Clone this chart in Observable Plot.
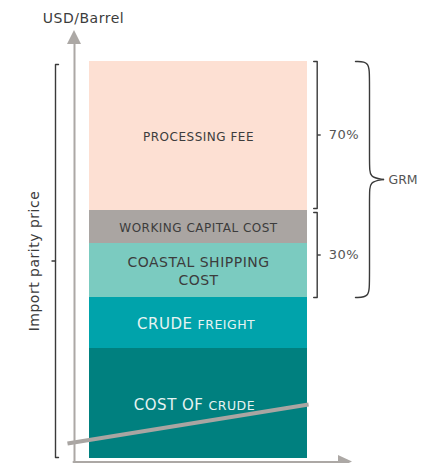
<!DOCTYPE html>
<html><head><meta charset="utf-8">
<script src="https://cdn.jsdelivr.net/npm/d3@7"></script>
<script src="https://cdn.jsdelivr.net/npm/@observablehq/plot@0.6"></script>
<style>body{margin:0;background:#fff} svg{display:block}</style>
</head><body><div id="chart"></div>
<script>
// ---- data (bottom to top) ----
const categories = ["Cost of crude", "Crude freight", "Coastal shipping cost", "Working capital cost", "Processing fee"];
const values = [110, 51, 54, 33, 149];               // USD/Barrel (relative)
const labelMain = ["COST OF", "CRUDE", "COASTAL SHIPPING\nCOST", "WORKING CAPITAL COST", "PROCESSING FEE"];
const labelSmall = ["CRUDE", "FREIGHT", "", "", ""];
const shareLabels = ["70%", "30%"];
const groupLabel = "GRM";
const sideLabel = "Import parity price";
const unitLabel = "USD/Barrel";
const trendX = [-0.101, 1.005];
const trendY = [15, 54];

// ---- styling ----
const palette = ["#00807f", "#00a3ab", "#7bcbc0", "#aaa5a2", "#fde0d3"];
const textDark = "#3c3c3c";
const textLight = "#e6f3f2";
const axisGray = "#aca8a5";
const bracketColor = "#3a3a3a";
const FONT = "DejaVu Sans";

let acc = 0;
const rows = categories.map((c, i) => {
  const y1 = acc; acc += values[i];
  return {category: c, y1, y2: acc, mid: (y1 + acc) / 2, main: labelMain[i], small: labelSmall[i], i};
});
const total = acc;
const U = 1 / 218; // x data units per pixel of bar width

const single = rows.filter(d => !d.small);
const split = rows.filter(d => d.small);
// pixel offsets of the split point for the two-size labels
const splitDx = {0: 7, 1: -4};

// brackets
const fee = rows[4], wc = rows[3], cs = rows[2];
const rb = 1 + 9.7 * U;
const rightBrackets = [
  {g: 0, top: fee.y2, bot: fee.y1 + 2},
  {g: 1, top: wc.y2 - 2, bot: cs.y1}
];
const rbPts = rightBrackets.flatMap(b => [
  {g: b.g, x: rb - 3.5 * U, y: b.top}, {g: b.g, x: rb, y: b.top},
  {g: b.g, x: rb, y: b.bot}, {g: b.g, x: rb - 3.5 * U, y: b.bot}
]);
const rbTicks = rightBrackets.map((b, k) => ({y: (b.top + b.bot) / 2, label: shareLabels[k]}));

const lb = -34 * U;
const lTop = total - 3, lBot = 1;
const lbPts = [{x: lb + 3 * U, y: lTop}, {x: lb, y: lTop}, {x: lb, y: lBot}, {x: lb + 3 * U, y: lBot}];
const lMid = (lTop + lBot) / 2;

// curly brace for GRM
const gTop = total, gBot = cs.y1, gMid = (gTop + gBot) / 2;
const bx = o => 1 + o * U;
const brace = [
  {g: 0, x: bx(48), y: gTop}, {g: 0, x: bx(62), y: gTop}, {g: 0, x: bx(62), y: gTop - 16},
  {g: 0, x: bx(62), y: gMid + 14}, {g: 0, x: bx(62), y: gMid + 2}, {g: 0, x: bx(76), y: gMid},
  {g: 1, x: bx(76), y: gMid}, {g: 1, x: bx(62), y: gMid - 2}, {g: 1, x: bx(62), y: gMid - 14},
  {g: 1, x: bx(62), y: gBot + 16}, {g: 1, x: bx(62), y: gBot}, {g: 1, x: bx(48), y: gBot}
];

// axes
const ax = -15 * U;
const axisY0 = -3.5;
const yArrowTip = total + 31, yArrowBase = total + 17;
const xArrowTip = bx(45), xArrowBase = bx(31);

const splitMarks = split.flatMap(d => [
  Plot.text([d], {x: 0.5, y: "mid", text: "main", dx: splitDx[d.i] - 2, dy: 6, fontSize: 15, fill: textLight, textAnchor: "end", lineAnchor: "bottom"}),
  Plot.text([d], {x: 0.5, y: "mid", text: "small", dx: splitDx[d.i] + 3, dy: 6, fontSize: 12.5, fill: textLight, textAnchor: "start", lineAnchor: "bottom"})
]);

const chart = Plot.plot({
  width: 421, height: 463,
  marginTop: 0, marginRight: 0, marginBottom: 0, marginLeft: 0,
  x: {domain: [0, 1], range: [89, 307], axis: null},
  y: {domain: [0, total], range: [458, 61], axis: null},
  color: {domain: categories, range: palette},
  style: {fontFamily: FONT, background: "white"},
  marks: [
    // stacked bar
    Plot.rectY(rows, {x1: 0, x2: 1, y1: "y1", y2: "y2", fill: "category"}),
    // segment labels
    Plot.text(single, {x: 0.5, y: "mid", text: "main", fontSize: d => d.i === 2 ? 14 : 12, lineHeight: 1.3, fill: textDark, textAnchor: "middle", lineAnchor: "middle"}),
    ...splitMarks,
    // trend line
    Plot.line(trendX.map((x, i) => ({x, y: trendY[i]})), {x: "x", y: "y", stroke: "#a9a5a2", strokeWidth: 4, strokeLinecap: "butt"}),
    // y axis with arrow
    Plot.line([{x: ax, y: axisY0}, {x: ax, y: yArrowBase + 1}], {x: "x", y: "y", stroke: axisGray, strokeWidth: 2}),
    Plot.areaX([{y: yArrowBase, x1: ax - 7 * U, x2: ax + 7 * U}, {y: yArrowTip, x1: ax, x2: ax}], {y: "y", x1: "x1", x2: "x2", fill: axisGray}),
    // x axis with arrow
    Plot.line([{x: ax - 1 * U, y: axisY0}, {x: xArrowBase + 1 * U, y: axisY0}], {x: "x", y: "y", stroke: axisGray, strokeWidth: 2}),
    Plot.areaY([{x: xArrowBase, y1: axisY0 - 6.5, y2: axisY0 + 6.5}, {x: xArrowTip, y1: axisY0, y2: axisY0}], {x: "x", y1: "y1", y2: "y2", fill: axisGray}),
    // left bracket
    Plot.line(lbPts, {x: "x", y: "y", stroke: bracketColor, strokeWidth: 1.4}),
    Plot.line([{x: lb, y: lMid}, {x: lb - 3.5 * U, y: lMid}], {x: "x", y: "y", stroke: bracketColor, strokeWidth: 1.4}),
    Plot.text([sideLabel], {x: -55 * U, y: lMid, text: d => d, rotate: -90, fontSize: 14, fill: textDark, textAnchor: "middle", lineAnchor: "middle"}),
    // right brackets
    Plot.line(rbPts, {x: "x", y: "y", z: "g", stroke: bracketColor, strokeWidth: 1.4}),
    Plot.link(rbTicks, {x1: rb, x2: rb + 3.5 * U, y1: "y", y2: "y", stroke: bracketColor, strokeWidth: 1.4}),
    Plot.text(rbTicks, {x: rb + 11.5 * U, y: "y", text: "label", textAnchor: "start", fontSize: 13, fill: "#555"}),
    // GRM brace
    Plot.line(brace, {x: "x", y: "y", z: "g", curve: "basis", stroke: bracketColor, strokeWidth: 1.4}),
    Plot.text([groupLabel], {x: bx(81), y: gMid, text: d => d, textAnchor: "start", fontSize: 12.5, fill: "#555"}),
    // unit label
    Plot.text([unitLabel], {x: -6 * U, y: total + 39, text: d => d, textAnchor: "middle", lineAnchor: "bottom", fontSize: 14, fill: textDark})
  ]
});

d3.select(chart).selectAll("text").style("letter-spacing", "0.5px");
d3.select(chart).selectAll("text").filter(function() { return this.textContent === groupLabel; }).style("letter-spacing", "0px");
document.getElementById("chart").appendChild(chart);
</script>
</body></html>
